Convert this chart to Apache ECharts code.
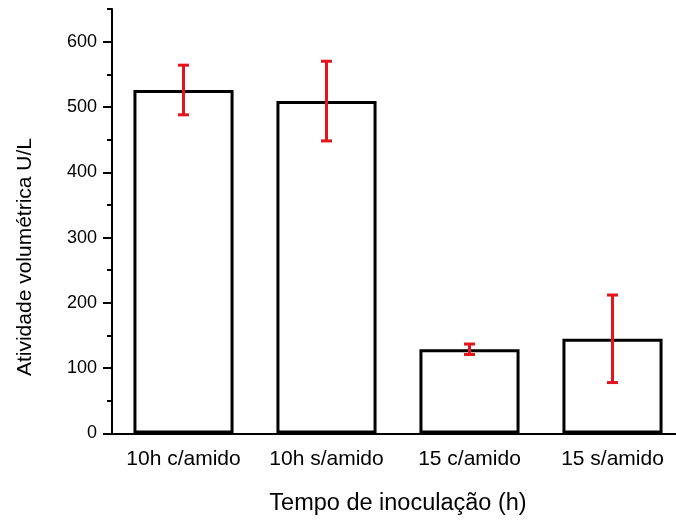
<!DOCTYPE html>
<html>
<head>
<meta charset="utf-8">
<script src="https://cdn.jsdelivr.net/npm/echarts@6/dist/echarts.min.js"></script>
<style>
  html, body { margin: 0; padding: 0; background: #fff; }
  #chart { width: 676px; height: 521px; }
</style>
</head>
<body>
<div id="chart"></div>
<script>
// Volumetric activity by inoculation time, with and without starch
const categories = ['10h c/amido', '10h s/amido', '15 c/amido', '15 s/amido'];
const meanValues = [526, 509, 129, 145];
const errorValues = [38, 61, 8, 67];
const majorTicks = [0, 100, 200, 300, 400, 500, 600];
const minorTicks = [50, 150, 250, 350, 450, 550, 650];

const FONT = '"Liberation Sans", Arial, sans-serif';

const errorData = meanValues.map((m, i) => [i, m - errorValues[i], m + errorValues[i]]);

const chart = echarts.init(document.getElementById('chart'), null, { renderer: 'canvas' });

chart.setOption({
  animation: false,
  backgroundColor: '#fff',
  grid: { left: 112, top: 9, width: 572, height: 424.5, outerBoundsMode: 'none', containLabel: false },
  xAxis: [
    {
      type: 'category',
      data: categories,
      boundaryGap: true,
      axisLine: { lineStyle: { color: '#000', width: 2 } },
      axisTick: { alignWithLabel: true, length: 9, lineStyle: { color: '#000', width: 2 } },
      axisLabel: { color: '#000', fontSize: 21, fontFamily: FONT, margin: 15, interval: 0 },
      splitLine: { show: false }
    },
    {
      type: 'category',
      data: categories,
      position: 'bottom',
      boundaryGap: true,
      axisLine: { show: false },
      axisTick: { alignWithLabel: false, length: 5, lineStyle: { color: '#000', width: 2 } },
      axisLabel: { show: false },
      splitLine: { show: false }
    }
  ],
  yAxis: [
    {
      type: 'value',
      min: 0,
      max: 650,
      axisLine: { show: true, lineStyle: { color: '#000', width: 2 } },
      axisTick: { show: true, length: 9, customValues: majorTicks, lineStyle: { color: '#000', width: 2 } },
      axisLabel: { color: '#000', fontSize: 18, fontFamily: FONT, margin: 15, customValues: majorTicks },
      splitLine: { show: false }
    },
    {
      type: 'value',
      min: 0,
      max: 650,
      position: 'left',
      axisLine: { show: false },
      axisTick: { show: true, length: 5, customValues: minorTicks, lineStyle: { color: '#000', width: 2 } },
      axisLabel: { show: false },
      splitLine: { show: false }
    }
  ],
  graphic: [
    {
      type: 'text',
      x: 25, y: 257, rotation: Math.PI / 2,
      style: {
        text: 'Atividade volumétrica U/L', fill: '#000',
        font: '21px ' + FONT, align: 'center', verticalAlign: 'middle'
      }
    },
    {
      type: 'text',
      x: 398, y: 504,
      style: {
        text: 'Tempo de inoculação (h)', fill: '#000',
        font: '23.5px ' + FONT, align: 'center', verticalAlign: 'middle'
      }
    }
  ],
  series: [
    {
      type: 'bar',
      xAxisIndex: 0,
      yAxisIndex: 0,
      data: meanValues,
      barWidth: '70%',
      itemStyle: { color: '#fff', borderColor: '#000', borderWidth: 3 },
      z: 2
    },
    {
      type: 'custom',
      xAxisIndex: 0,
      yAxisIndex: 0,
      data: errorData,
      z: 5,
      renderItem: function (params, api) {
        const x = api.value(0);
        const lo = api.coord([x, api.value(1)]);
        const hi = api.coord([x, api.value(2)]);
        const cap = 5.5;
        const style = { stroke: '#e3141b', lineWidth: 3 };
        return {
          type: 'group',
          children: [
            { type: 'line', shape: { x1: hi[0], y1: hi[1], x2: lo[0], y2: lo[1] }, style: style },
            { type: 'line', shape: { x1: hi[0] - cap, y1: hi[1], x2: hi[0] + cap, y2: hi[1] }, style: style },
            { type: 'line', shape: { x1: lo[0] - cap, y1: lo[1], x2: lo[0] + cap, y2: lo[1] }, style: style }
          ]
        };
      }
    }
  ]
});
</script>
</body>
</html>
